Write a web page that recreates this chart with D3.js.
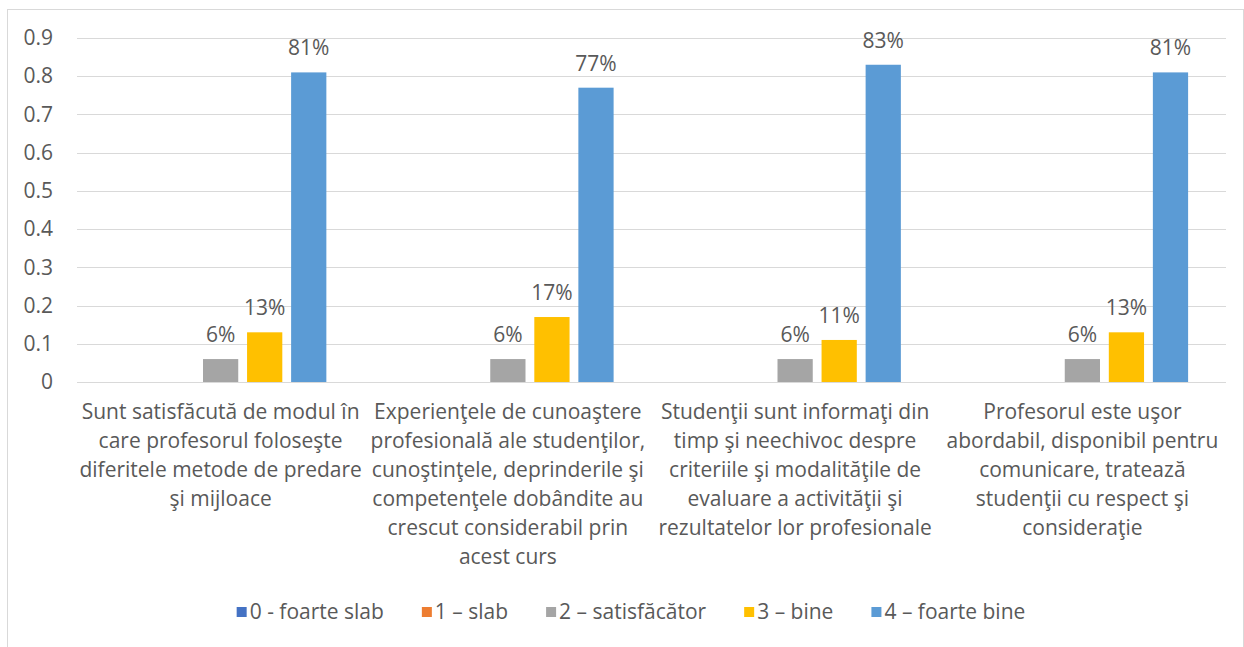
<!DOCTYPE html>
<html lang="en">
  <head>
    <meta charset="utf-8">
    <script src="https://d3js.org/d3.v7.min.js"></script>
    <style>
      body { margin: 0; background: #fff; }
      text { font-family: "Open Sans", "Noto Sans", sans-serif; fill: #595959; }
    </style>
  </head>
  <body>
    <svg width="1244" height="647"></svg>
    <script type="text/javascript">
      // Data
      var categories = [
        ["Sunt satisfăcută de modul în", "care profesorul foloseşte", "diferitele metode de predare", "şi mijloace"],
        ["Experienţele de cunoaştere", "profesională ale studenţilor,", "cunoştinţele, deprinderile şi", "competenţele dobândite au", "crescut considerabil prin", "acest curs"],
        ["Studenţii sunt informaţi din", "timp şi neechivoc despre", "criteriile şi modalităţile de", "evaluare a activităţii şi", "rezultatelor lor profesionale"],
        ["Profesorul este uşor", "abordabil, disponibil pentru", "comunicare, tratează", "studenţii cu respect şi", "consideraţie"]
      ];
      var seriesNames = ["0 - foarte slab", "1 – slab", "2 – satisfăcător", "3 – bine", "4 – foarte bine"];
      var seriesColors = ["#4472C4", "#ED7D31", "#A5A5A5", "#FFC000", "#5B9BD5"];
      var s0 = [0, 0, 0, 0];
      var s1 = [0, 0, 0, 0];
      var s2 = [0.06, 0.06, 0.06, 0.06];
      var s3 = [0.13, 0.17, 0.11, 0.13];
      var s4 = [0.81, 0.77, 0.83, 0.81];
      var seriesValues = [s0, s1, s2, s3, s4];
      var yTicks = [0, 0.1, 0.2, 0.3, 0.4, 0.5, 0.6, 0.7, 0.8, 0.9];

      var svg = d3.select("svg");

      // chart border
      svg.append("rect")
        .attr("x", 7.5).attr("y", 9.5)
        .attr("width", 1236).attr("height", 660)
        .attr("fill", "none").attr("stroke", "#D9D9D9");

      var plotLeft = 77, plotRight = 1226, plotTop = 38, plotBottom = 382;

      var y = d3.scaleLinear().domain([0, 0.9]).range([plotBottom, plotTop]);
      var x0 = d3.scaleBand().domain(d3.range(categories.length)).range([plotLeft, plotRight]);
      var x1 = d3.scaleBand().domain(d3.range(seriesNames.length))
        .range([0, x0.bandwidth()]).paddingInner(0.2).paddingOuter(0.86);

      // gridlines
      svg.append("g").selectAll("line").data(yTicks).join("line")
        .attr("x1", plotLeft).attr("x2", plotRight)
        .attr("y1", d => Math.round(y(d)) + 0.5).attr("y2", d => Math.round(y(d)) + 0.5)
        .attr("stroke", "#D9D9D9").attr("stroke-width", 1);

      // y axis labels
      var yAxis = d3.axisLeft(y).tickValues(yTicks).tickSize(0).tickPadding(24)
        .tickFormat(d => d === 0 ? "0" : d3.format(".1f")(d));
      var ga = svg.append("g").attr("transform", `translate(${plotLeft},0)`).call(yAxis);
      ga.select(".domain").remove();
      ga.selectAll("text").attr("font-size", 21).attr("font-family", null).attr("fill", "#595959");

      // bars
      var groups = svg.append("g").selectAll("g").data(categories).join("g")
        .attr("transform", (d, i) => `translate(${x0(i)},0)`);
      groups.each(function(c, ci) {
        var g = d3.select(this);
        seriesValues.forEach(function(vals, si) {
          var v = vals[ci];
          if (v <= 0) return;
          g.append("rect")
            .attr("x", x1(si)).attr("width", x1.bandwidth())
            .attr("y", y(v)).attr("height", y(0) - y(v))
            .attr("fill", seriesColors[si]);
          g.append("text")
            .attr("x", x1(si) + x1.bandwidth() / 2)
            .attr("y", y(v) - 17)
            .attr("text-anchor", "middle")
            .attr("font-size", 21)
            .attr("fill", "#404040")
            .text(d3.format(".0%")(v));
        });
      });

      // category labels
      categories.forEach(function(lines, ci) {
        var t = svg.append("text")
          .attr("text-anchor", "middle")
          .attr("font-size", 21);
        lines.forEach(function(line, li) {
          t.append("tspan")
            .attr("x", x0(ci) + x0.bandwidth() / 2)
            .attr("y", 419 + li * 29)
            .text(line);
        });
      });

      // legend
      var legend = svg.append("g");
      var lx = 0, gap = 38;
      seriesNames.forEach(function(name, i) {
        var g = legend.append("g");
        g.append("rect").attr("x", 0).attr("y", -12).attr("width", 10).attr("height", 10)
          .attr("fill", seriesColors[i]);
        var t = g.append("text").attr("x", 13).attr("y", 0).attr("font-size", 21).text(name);
        var w = 13 + t.node().getComputedTextLength();
        g.attr("transform", `translate(${lx},0)`);
        lx += w + gap;
      });
      var totalW = lx - gap;
      legend.attr("transform", `translate(${631 - totalW / 2},619)`);
    </script>
  </body>
</html>
